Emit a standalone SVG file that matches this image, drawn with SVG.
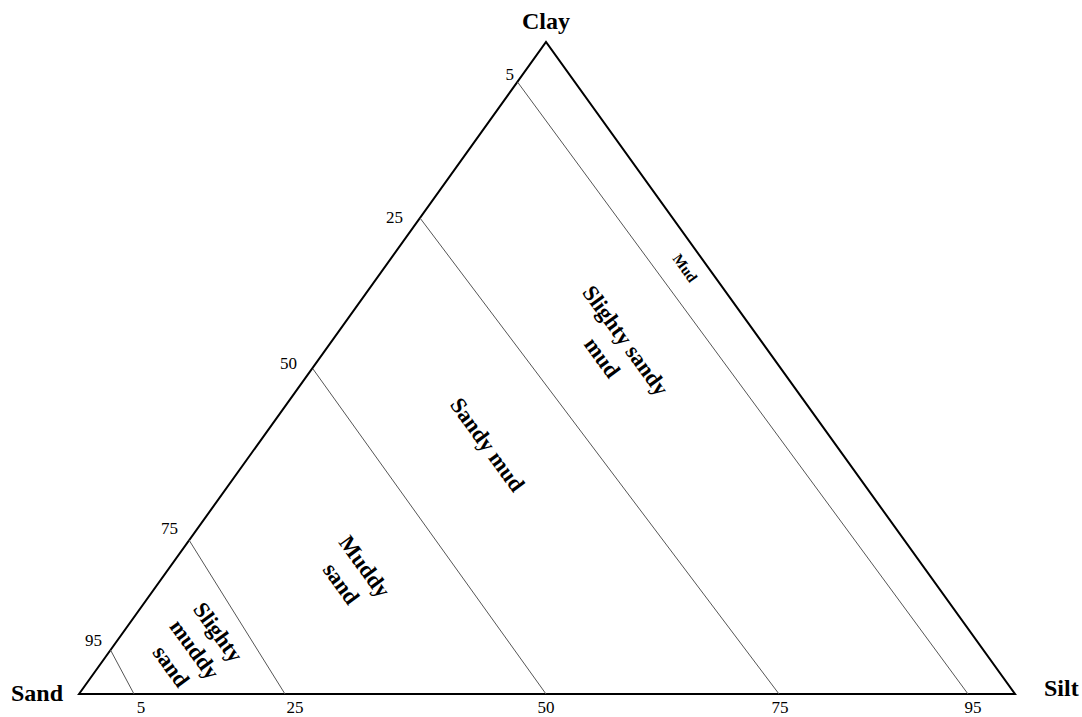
<svg xmlns="http://www.w3.org/2000/svg" width="1082" height="717" viewBox="0 0 1082 717">
<style>
.tick{font-family:"Liberation Serif",serif;font-size:17px;fill:#000}
.corner{font-family:"Liberation Serif",serif;font-size:24px;font-weight:bold;fill:#000}
.zone{font-family:"Liberation Serif",serif;font-size:22.5px;font-weight:bold;fill:#000;text-anchor:middle}
.inner{stroke:#555;stroke-width:1;fill:none}
</style>
<rect width="1082" height="717" fill="#fff"/>
<g id="triangle">
<polygon points="79,694 546,42 1015,694" fill="none" stroke="#000" stroke-width="2"/>
</g>
<g id="connectors">
<line class="inner" x1="517.5" y1="82" x2="968" y2="694"/>
<line class="inner" x1="420" y1="218" x2="779" y2="694"/>
<line class="inner" x1="313" y1="369" x2="546" y2="694"/>
<line class="inner" x1="189" y1="540" x2="285" y2="694"/>
<line class="inner" x1="110.5" y1="650" x2="134" y2="694"/>
</g>
<g id="corner-labels">
<text class="corner" x="546" y="29" text-anchor="middle">Clay</text>
<text class="corner" x="11" y="701">Sand</text>
<text class="corner" x="1044" y="696">Silt</text>
</g>
<g id="left-ticks" class="tick" text-anchor="end">
<text x="514" y="80">5</text>
<text x="403" y="223">25</text>
<text x="297" y="369">50</text>
<text x="178" y="534">75</text>
<text x="102" y="646">95</text>
</g>
<g id="bottom-ticks" class="tick" text-anchor="middle">
<text x="141" y="713">5</text>
<text x="295" y="713">25</text>
<text x="546" y="713">50</text>
<text x="780" y="713">75</text>
<text x="973" y="713">95</text>
</g>
<g id="zone-mud">
<text class="zone" style="font-size:15px" transform="translate(685,268) rotate(54)" dy="5">Mud</text>
</g>
<g id="zone-slightly-sandy-mud">
<text class="zone" transform="translate(614,349) rotate(54)"><tspan x="0" dy="-7">Slighty sandy</tspan><tspan x="0" dy="29">mud</tspan></text>
</g>
<g id="zone-sandy-mud">
<text class="zone" transform="translate(487,445) rotate(54)" dy="7">Sandy mud</text>
</g>
<g id="zone-muddy-sand">
<text class="zone" transform="translate(353,575) rotate(54)"><tspan x="0" dy="-7">Muddy</tspan><tspan x="0" dy="29">sand</tspan></text>
</g>
<g id="zone-slightly-muddy-sand">
<text class="zone" transform="translate(195,649) rotate(54)"><tspan x="0" dy="-21">Slighty</tspan><tspan x="0" dy="29">muddy</tspan><tspan x="0" dy="29">sand</tspan></text>
</g>
</svg>
